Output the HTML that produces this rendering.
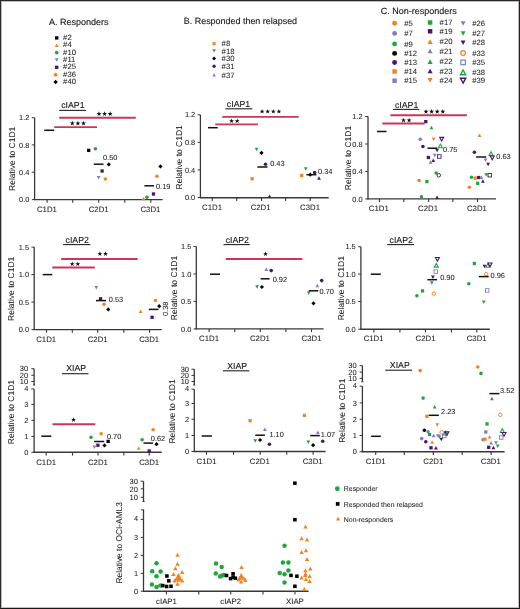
<!DOCTYPE html>
<html><head><meta charset="utf-8"><title>Figure</title>
<style>
html,body{margin:0;padding:0;background:#fff;}
body{width:520px;height:609px;overflow:hidden;position:relative;}
.frame{position:absolute;left:0;top:0;width:520px;height:609px;box-sizing:border-box;border:1px solid #2b2728;border-bottom-color:#1a1617;border-right-color:#221e1f;box-shadow:inset 0 0 0 1px rgba(43,39,40,0.3);}
svg{position:absolute;left:0;top:0;will-change:transform;}
text{font-family:"Liberation Sans", sans-serif;text-rendering:geometricPrecision;}
</style></head><body>
<svg width="520" height="609" viewBox="0 0 520 609" font-family="Liberation Sans, sans-serif">
<rect x="0" y="0" width="520" height="609" fill="#fff"/>
<text x="0" y="3.22" font-size="9" fill="#1a1a1a" stroke="#1a1a1a" stroke-width="0.14" text-anchor="start" transform="translate(49,21.8) scale(1,1)" >A. Responders</text>
<text x="0" y="3.2" font-size="8.95" fill="#1a1a1a" stroke="#1a1a1a" stroke-width="0.14" text-anchor="start" transform="translate(183.8,20.5) scale(1,1)" >B. Responded then relapsed</text>
<text x="0" y="3.22" font-size="9" fill="#1a1a1a" stroke="#1a1a1a" stroke-width="0.14" text-anchor="start" transform="translate(380.8,10.9) scale(1,1)" >C. Non-responders</text>
<rect x="55.02" y="36.22" width="3.37" height="3.37" fill="#000000"/>
<text x="0" y="2.76" font-size="7.7" fill="#1e1e1e" stroke="#1e1e1e" stroke-width="0.06" text-anchor="start" transform="translate(63.1,37.3) scale(1,1)" >#2</text>
<polygon points="56.7 43.47 58.64 47.03 54.76 47.03" fill="#f5821f"/>
<text x="0" y="2.76" font-size="7.7" fill="#1e1e1e" stroke="#1e1e1e" stroke-width="0.06" text-anchor="start" transform="translate(63.1,44.65) scale(1,1)" >#4</text>
<circle cx="56.7" cy="52.6" r="1.84" fill="#22a53f"/>
<text x="0" y="2.76" font-size="7.7" fill="#1e1e1e" stroke="#1e1e1e" stroke-width="0.06" text-anchor="start" transform="translate(63.1,52) scale(1,1)" >#10</text>
<polygon points="56.7 61.73 58.64 58.16 54.76 58.16" fill="#817bc8"/>
<text x="0" y="2.76" font-size="7.7" fill="#1e1e1e" stroke="#1e1e1e" stroke-width="0.06" text-anchor="start" transform="translate(63.1,59.35) scale(1,1)" >#11</text>
<rect x="55.02" y="65.62" width="3.37" height="3.37" fill="#4a1570"/>
<text x="0" y="2.76" font-size="7.7" fill="#1e1e1e" stroke="#1e1e1e" stroke-width="0.06" text-anchor="start" transform="translate(63.1,66.7) scale(1,1)" >#25</text>
<circle cx="55.6" cy="74.65" r="1.84" fill="#f5821f"/>
<text x="0" y="2.76" font-size="7.7" fill="#1e1e1e" stroke="#1e1e1e" stroke-width="0.06" text-anchor="start" transform="translate(63.1,74.05) scale(1,1)" >#36</text>
<polygon points="55.6,79.86 57.74,82 55.6,84.14 53.46,82" fill="#000000"/>
<text x="0" y="2.76" font-size="7.7" fill="#1e1e1e" stroke="#1e1e1e" stroke-width="0.06" text-anchor="start" transform="translate(63.1,81.4) scale(1,1)" >#40</text>
<rect x="212.53" y="42.13" width="3.13" height="3.13" fill="#f5821f"/>
<text x="0" y="2.76" font-size="7.7" fill="#1e1e1e" stroke="#1e1e1e" stroke-width="0.06" text-anchor="start" transform="translate(221.6,43.7) scale(1,1)" >#8</text>
<polygon points="214.1 52.56 215.91 49.24 212.29 49.24" fill="#22a53f"/>
<text x="0" y="2.76" font-size="7.7" fill="#1e1e1e" stroke="#1e1e1e" stroke-width="0.06" text-anchor="start" transform="translate(221.6,50.9) scale(1,1)" >#18</text>
<polygon points="214.1,56.61 216.09,58.6 214.1,60.59 212.1,58.6" fill="#000000"/>
<text x="0" y="2.76" font-size="7.7" fill="#1e1e1e" stroke="#1e1e1e" stroke-width="0.06" text-anchor="start" transform="translate(221.6,58.6) scale(1,1)" >#30</text>
<circle cx="214.1" cy="66.3" r="1.71" fill="#4a1570"/>
<text x="0" y="2.76" font-size="7.7" fill="#1e1e1e" stroke="#1e1e1e" stroke-width="0.06" text-anchor="start" transform="translate(221.6,66.3) scale(1,1)" >#31</text>
<polygon points="214.1 73.24 215.91 76.56 212.29 76.56" fill="#817bc8"/>
<text x="0" y="2.76" font-size="7.7" fill="#1e1e1e" stroke="#1e1e1e" stroke-width="0.06" text-anchor="start" transform="translate(221.6,74.9) scale(1,1)" >#37</text>
<circle cx="394.6" cy="23.3" r="2.43" fill="#f5821f"/>
<text x="0" y="2.76" font-size="7.7" fill="#1e1e1e" stroke="#1e1e1e" stroke-width="0.06" text-anchor="start" transform="translate(404.2,23.3) scale(1,1)" >#5</text>
<circle cx="394.6" cy="33.4" r="2.43" fill="#817bc8"/>
<text x="0" y="2.76" font-size="7.7" fill="#1e1e1e" stroke="#1e1e1e" stroke-width="0.06" text-anchor="start" transform="translate(404.2,33.4) scale(1,1)" >#7</text>
<circle cx="394.6" cy="43.9" r="2.43" fill="#22a53f"/>
<text x="0" y="2.76" font-size="7.7" fill="#1e1e1e" stroke="#1e1e1e" stroke-width="0.06" text-anchor="start" transform="translate(404.2,43.9) scale(1,1)" >#9</text>
<circle cx="394.6" cy="53.4" r="2.43" fill="#000000"/>
<text x="0" y="2.76" font-size="7.7" fill="#1e1e1e" stroke="#1e1e1e" stroke-width="0.06" text-anchor="start" transform="translate(404.2,53.4) scale(1,1)" >#12</text>
<circle cx="394.6" cy="62.5" r="2.43" fill="#4a1570"/>
<text x="0" y="2.76" font-size="7.7" fill="#1e1e1e" stroke="#1e1e1e" stroke-width="0.06" text-anchor="start" transform="translate(404.2,62.5) scale(1,1)" >#13</text>
<rect x="392.37" y="69.27" width="4.46" height="4.46" fill="#f5821f"/>
<text x="0" y="2.76" font-size="7.7" fill="#1e1e1e" stroke="#1e1e1e" stroke-width="0.06" text-anchor="start" transform="translate(404.2,71.5) scale(1,1)" >#14</text>
<rect x="392.37" y="78.47" width="4.46" height="4.46" fill="#817bc8"/>
<text x="0" y="2.76" font-size="7.7" fill="#1e1e1e" stroke="#1e1e1e" stroke-width="0.06" text-anchor="start" transform="translate(404.2,80.7) scale(1,1)" >#15</text>
<rect x="427.87" y="20.27" width="4.46" height="4.46" fill="#22a53f"/>
<text x="0" y="2.76" font-size="7.7" fill="#1e1e1e" stroke="#1e1e1e" stroke-width="0.06" text-anchor="start" transform="translate(439.6,22.5) scale(1,1)" >#17</text>
<rect x="427.87" y="29.07" width="4.46" height="4.46" fill="#4a1570"/>
<text x="0" y="2.76" font-size="7.7" fill="#1e1e1e" stroke="#1e1e1e" stroke-width="0.06" text-anchor="start" transform="translate(439.6,31.3) scale(1,1)" >#19</text>
<polygon points="430.1 39.24 432.67 43.96 427.54 43.96" fill="#f5821f"/>
<text x="0" y="2.76" font-size="7.7" fill="#1e1e1e" stroke="#1e1e1e" stroke-width="0.06" text-anchor="start" transform="translate(439.6,41.6) scale(1,1)" >#20</text>
<polygon points="430.1 48.64 432.67 53.36 427.54 53.36" fill="#817bc8"/>
<text x="0" y="2.76" font-size="7.7" fill="#1e1e1e" stroke="#1e1e1e" stroke-width="0.06" text-anchor="start" transform="translate(439.6,51) scale(1,1)" >#21</text>
<polygon points="430.1 59.24 432.67 63.96 427.54 63.96" fill="#22a53f"/>
<text x="0" y="2.76" font-size="7.7" fill="#1e1e1e" stroke="#1e1e1e" stroke-width="0.06" text-anchor="start" transform="translate(439.6,61.6) scale(1,1)" >#22</text>
<polygon points="430.1 68.64 432.67 73.36 427.54 73.36" fill="#4a1570"/>
<text x="0" y="2.76" font-size="7.7" fill="#1e1e1e" stroke="#1e1e1e" stroke-width="0.06" text-anchor="start" transform="translate(439.6,71) scale(1,1)" >#23</text>
<polygon points="430.1 82.66 432.67 77.94 427.54 77.94" fill="#f5821f"/>
<text x="0" y="2.76" font-size="7.7" fill="#1e1e1e" stroke="#1e1e1e" stroke-width="0.06" text-anchor="start" transform="translate(439.6,80.3) scale(1,1)" >#24</text>
<polygon points="463.1 25.77 465.57 21.23 460.63 21.23" fill="#817bc8"/>
<text x="0" y="2.76" font-size="7.7" fill="#1e1e1e" stroke="#1e1e1e" stroke-width="0.06" text-anchor="start" transform="translate(472.3,23.5) scale(1,1)" >#26</text>
<polygon points="463.1 35.77 465.57 31.23 460.63 31.23" fill="#22a53f"/>
<text x="0" y="2.76" font-size="7.7" fill="#1e1e1e" stroke="#1e1e1e" stroke-width="0.06" text-anchor="start" transform="translate(472.3,33.5) scale(1,1)" >#27</text>
<polygon points="463.1 44.98 465.57 40.43 460.63 40.43" fill="#4a1570"/>
<text x="0" y="2.76" font-size="7.7" fill="#1e1e1e" stroke="#1e1e1e" stroke-width="0.06" text-anchor="start" transform="translate(472.3,42.7) scale(1,1)" >#28</text>
<circle cx="463.1" cy="53" r="2.27" fill="none" stroke="#f5821f" stroke-width="1.23"/>
<text x="0" y="2.76" font-size="7.7" fill="#1e1e1e" stroke="#1e1e1e" stroke-width="0.06" text-anchor="start" transform="translate(472.3,53) scale(1,1)" >#33</text>
<rect x="460.83" y="60.12" width="4.55" height="4.55" fill="none" stroke="#817bc8" stroke-width="1.17"/>
<text x="0" y="2.76" font-size="7.7" fill="#1e1e1e" stroke="#1e1e1e" stroke-width="0.06" text-anchor="start" transform="translate(472.3,62.4) scale(1,1)" >#35</text>
<polygon points="463.1 70 465.7 74.81 460.5 74.81" fill="none" stroke="#22a53f" stroke-width="1.43" stroke-linejoin="miter"/>
<text x="0" y="2.76" font-size="7.7" fill="#1e1e1e" stroke="#1e1e1e" stroke-width="0.06" text-anchor="start" transform="translate(472.3,72.4) scale(1,1)" >#38</text>
<polygon points="463.1 83.11 465.7 78.3 460.5 78.3" fill="none" stroke="#4a1570" stroke-width="1.43" stroke-linejoin="miter"/>
<text x="0" y="2.76" font-size="7.7" fill="#1e1e1e" stroke="#1e1e1e" stroke-width="0.06" text-anchor="start" transform="translate(472.3,80.7) scale(1,1)" >#39</text>
<line x1="34.6" y1="117.7" x2="34.6" y2="200.1" stroke="#383838" stroke-width="1.3"/>
<line x1="31.8" y1="117.7" x2="34.6" y2="117.7" stroke="#383838" stroke-width="1"/>
<text x="0" y="2.65" font-size="7.4" fill="#1e1e1e" stroke="#1e1e1e" stroke-width="0.06" text-anchor="end" transform="translate(29.4,117.7) scale(1,1)" >1.2</text>
<line x1="31.8" y1="144.9" x2="34.6" y2="144.9" stroke="#383838" stroke-width="1"/>
<text x="0" y="2.65" font-size="7.4" fill="#1e1e1e" stroke="#1e1e1e" stroke-width="0.06" text-anchor="end" transform="translate(29.4,144.9) scale(1,1)" >0.8</text>
<line x1="31.8" y1="172.2" x2="34.6" y2="172.2" stroke="#383838" stroke-width="1"/>
<text x="0" y="2.65" font-size="7.4" fill="#1e1e1e" stroke="#1e1e1e" stroke-width="0.06" text-anchor="end" transform="translate(29.4,172.2) scale(1,1)" >0.4</text>
<line x1="31.8" y1="199.6" x2="34.6" y2="199.6" stroke="#383838" stroke-width="1"/>
<text x="0" y="2.65" font-size="7.4" fill="#1e1e1e" stroke="#1e1e1e" stroke-width="0.06" text-anchor="end" transform="translate(29.4,199.6) scale(1,1)" >0.0</text>
<text x="0" y="3.04" font-size="8.5" fill="#1e1e1e" stroke="#1e1e1e" stroke-width="0.06" text-anchor="middle" transform="translate(12.3,158.8) rotate(-90) scale(1,1)" >Relative to C1D1</text>
<line x1="34" y1="199.6" x2="162.7" y2="199.6" stroke="#383838" stroke-width="1.4"/>
<line x1="47.1" y1="199.6" x2="47.1" y2="202.8" stroke="#383838" stroke-width="1.1"/>
<line x1="72.7" y1="199.6" x2="72.7" y2="202.8" stroke="#383838" stroke-width="1.1"/>
<line x1="98.7" y1="199.6" x2="98.7" y2="202.8" stroke="#383838" stroke-width="1.1"/>
<line x1="124.8" y1="199.6" x2="124.8" y2="202.8" stroke="#383838" stroke-width="1.1"/>
<line x1="150.8" y1="199.6" x2="150.8" y2="202.8" stroke="#383838" stroke-width="1.1"/>
<text x="0" y="2.79" font-size="7.8" fill="#1e1e1e" stroke="#1e1e1e" stroke-width="0.06" text-anchor="middle" transform="translate(46.9,208.9) scale(1,1)" >C1D1</text>
<text x="0" y="2.79" font-size="7.8" fill="#1e1e1e" stroke="#1e1e1e" stroke-width="0.06" text-anchor="middle" transform="translate(98.7,208.9) scale(1,1)" >C2D1</text>
<text x="0" y="2.79" font-size="7.8" fill="#1e1e1e" stroke="#1e1e1e" stroke-width="0.06" text-anchor="middle" transform="translate(150.4,208.9) scale(1,1)" >C3D1</text>
<text x="0" y="3.13" font-size="8.75" fill="#1a1a1a" stroke="#1a1a1a" stroke-width="0.12" text-anchor="middle" transform="translate(72.9,105.15) scale(1,1)" >cIAP1</text>
<line x1="59.2" y1="110.4" x2="86" y2="110.4" stroke="#222" stroke-width="1.1"/>
<line x1="59.2" y1="117.7" x2="135.8" y2="117.7" stroke="#cc3654" stroke-width="1.9"/>
<polygon points="99,111.3 99.62,113.05 101.47,113.1 100,114.22 100.53,116 99,114.95 97.47,116 98,114.22 96.53,113.1 98.38,113.05" fill="#111"/>
<polygon points="104.6,111.3 105.22,113.05 107.07,113.1 105.6,114.22 106.13,116 104.6,114.95 103.07,116 103.6,114.22 102.13,113.1 103.98,113.05" fill="#111"/>
<polygon points="110.2,111.3 110.82,113.05 112.67,113.1 111.2,114.22 111.73,116 110.2,114.95 108.67,116 109.2,114.22 107.73,113.1 109.58,113.05" fill="#111"/>
<line x1="54.2" y1="127.1" x2="97" y2="127.1" stroke="#cc3654" stroke-width="1.9"/>
<polygon points="72.3,120.8 72.92,122.55 74.77,122.6 73.3,123.72 73.83,125.5 72.3,124.45 70.77,125.5 71.3,123.72 69.83,122.6 71.68,122.55" fill="#111"/>
<polygon points="77.9,120.8 78.52,122.55 80.37,122.6 78.9,123.72 79.43,125.5 77.9,124.45 76.37,125.5 76.9,123.72 75.43,122.6 77.28,122.55" fill="#111"/>
<polygon points="83.5,120.8 84.12,122.55 85.97,122.6 84.5,123.72 85.03,125.5 83.5,124.45 81.97,125.5 82.5,123.72 81.03,122.6 82.88,122.55" fill="#111"/>
<line x1="44.2" y1="130.3" x2="54.2" y2="130.3" stroke="#111" stroke-width="1.5"/>
<rect x="87.05" y="148.75" width="3.3" height="3.3" fill="#000000"/>
<circle cx="95.4" cy="148.8" r="1.8" fill="#22a53f"/>
<polygon points="108.8,162.3 110.9,164.4 108.8,166.5 106.7,164.4" fill="#000000"/>
<rect x="100.45" y="169.35" width="3.3" height="3.3" fill="#4a1570"/>
<polygon points="98.7 179.45 100.6 175.95 96.8 175.95" fill="#817bc8"/>
<circle cx="105.4" cy="179" r="1.8" fill="#f5821f"/>
<line x1="93.8" y1="164.2" x2="103.5" y2="164.2" stroke="#111" stroke-width="1.5"/>
<text x="0" y="2.65" font-size="7.4" fill="#1e1e1e" stroke="#1e1e1e" stroke-width="0.06" text-anchor="start" transform="translate(103,157.5) scale(1,1)" >0.50</text>
<polygon points="160.4,164.3 162.5,166.4 160.4,168.5 158.3,166.4" fill="#000000"/>
<circle cx="156.9" cy="176.2" r="1.8" fill="#f5821f"/>
<rect x="151.85" y="192.35" width="3.3" height="3.3" fill="#4a1570"/>
<circle cx="146.9" cy="197.3" r="1.8" fill="#22a53f"/>
<polygon points="143.5 196.85 145.4 200.35 141.6 200.35" fill="#f5821f"/>
<line x1="144.4" y1="185.8" x2="154" y2="185.8" stroke="#111" stroke-width="1.5"/>
<text x="0" y="2.65" font-size="7.4" fill="#1e1e1e" stroke="#1e1e1e" stroke-width="0.06" text-anchor="start" transform="translate(156,186.2) scale(1,1)" >0.19</text>
<line x1="200.4" y1="114.8" x2="200.4" y2="198" stroke="#383838" stroke-width="1.3"/>
<line x1="197.6" y1="114.8" x2="200.4" y2="114.8" stroke="#383838" stroke-width="1"/>
<text x="0" y="2.65" font-size="7.4" fill="#1e1e1e" stroke="#1e1e1e" stroke-width="0.06" text-anchor="end" transform="translate(195.2,114.8) scale(1,1)" >1.2</text>
<line x1="197.6" y1="142.4" x2="200.4" y2="142.4" stroke="#383838" stroke-width="1"/>
<text x="0" y="2.65" font-size="7.4" fill="#1e1e1e" stroke="#1e1e1e" stroke-width="0.06" text-anchor="end" transform="translate(195.2,142.4) scale(1,1)" >0.8</text>
<line x1="197.6" y1="169.9" x2="200.4" y2="169.9" stroke="#383838" stroke-width="1"/>
<text x="0" y="2.65" font-size="7.4" fill="#1e1e1e" stroke="#1e1e1e" stroke-width="0.06" text-anchor="end" transform="translate(195.2,169.9) scale(1,1)" >0.4</text>
<line x1="197.6" y1="197.5" x2="200.4" y2="197.5" stroke="#383838" stroke-width="1"/>
<text x="0" y="2.65" font-size="7.4" fill="#1e1e1e" stroke="#1e1e1e" stroke-width="0.06" text-anchor="end" transform="translate(195.2,197.5) scale(1,1)" >0.0</text>
<text x="0" y="3.04" font-size="8.5" fill="#1e1e1e" stroke="#1e1e1e" stroke-width="0.06" text-anchor="middle" transform="translate(178.7,157.3) rotate(-90) scale(1,1)" >Relative to C1D1</text>
<line x1="199.8" y1="197.8" x2="328.7" y2="197.8" stroke="#383838" stroke-width="1.4"/>
<line x1="212.3" y1="197.8" x2="212.3" y2="201" stroke="#383838" stroke-width="1.1"/>
<line x1="236.7" y1="197.8" x2="236.7" y2="201" stroke="#383838" stroke-width="1.1"/>
<line x1="261.5" y1="197.8" x2="261.5" y2="201" stroke="#383838" stroke-width="1.1"/>
<line x1="285.6" y1="197.8" x2="285.6" y2="201" stroke="#383838" stroke-width="1.1"/>
<line x1="310.2" y1="197.8" x2="310.2" y2="201" stroke="#383838" stroke-width="1.1"/>
<text x="0" y="2.79" font-size="7.8" fill="#1e1e1e" stroke="#1e1e1e" stroke-width="0.06" text-anchor="middle" transform="translate(212,207) scale(1,1)" >C1D1</text>
<text x="0" y="2.79" font-size="7.8" fill="#1e1e1e" stroke="#1e1e1e" stroke-width="0.06" text-anchor="middle" transform="translate(260.6,207) scale(1,1)" >C2D1</text>
<text x="0" y="2.79" font-size="7.8" fill="#1e1e1e" stroke="#1e1e1e" stroke-width="0.06" text-anchor="middle" transform="translate(310,207) scale(1,1)" >C3D1</text>
<text x="0" y="3.13" font-size="8.75" fill="#1a1a1a" stroke="#1a1a1a" stroke-width="0.12" text-anchor="middle" transform="translate(238.5,103.85) scale(1,1)" >cIAP1</text>
<line x1="225.4" y1="108.8" x2="252.3" y2="108.8" stroke="#222" stroke-width="1.1"/>
<line x1="222.3" y1="116.9" x2="298.7" y2="116.9" stroke="#cc3654" stroke-width="1.9"/>
<polygon points="262.1,108.9 262.72,110.65 264.57,110.7 263.1,111.82 263.63,113.6 262.1,112.55 260.57,113.6 261.1,111.82 259.63,110.7 261.48,110.65" fill="#111"/>
<polygon points="267.7,108.9 268.32,110.65 270.17,110.7 268.7,111.82 269.23,113.6 267.7,112.55 266.17,113.6 266.7,111.82 265.23,110.7 267.08,110.65" fill="#111"/>
<polygon points="273.3,108.9 273.92,110.65 275.77,110.7 274.3,111.82 274.83,113.6 273.3,112.55 271.77,113.6 272.3,111.82 270.83,110.7 272.68,110.65" fill="#111"/>
<polygon points="278.9,108.9 279.52,110.65 281.37,110.7 279.9,111.82 280.43,113.6 278.9,112.55 277.37,113.6 277.9,111.82 276.43,110.7 278.28,110.65" fill="#111"/>
<line x1="215.2" y1="124.4" x2="257.9" y2="124.4" stroke="#cc3654" stroke-width="1.9"/>
<polygon points="231.6,118.4 232.22,120.15 234.07,120.2 232.6,121.32 233.13,123.1 231.6,122.05 230.07,123.1 230.6,121.32 229.13,120.2 230.98,120.15" fill="#111"/>
<polygon points="237.2,118.4 237.82,120.15 239.67,120.2 238.2,121.32 238.73,123.1 237.2,122.05 235.67,123.1 236.2,121.32 234.73,120.2 236.58,120.15" fill="#111"/>
<line x1="208" y1="127.7" x2="217.7" y2="127.7" stroke="#111" stroke-width="1.5"/>
<polygon points="256.6 151.15 258.5 147.65 254.7 147.65" fill="#22a53f"/>
<polygon points="261.5,150.8 263.6,152.9 261.5,155 259.4,152.9" fill="#000000"/>
<circle cx="265.5" cy="164.2" r="1.8" fill="#4a1570"/>
<rect x="250.45" y="177.15" width="3.3" height="3.3" fill="#f5821f"/>
<polygon points="269.6 194.55 271.5 198.05 267.7 198.05" fill="#4a1570"/>
<line x1="257.4" y1="167" x2="267.5" y2="167" stroke="#111" stroke-width="1.5"/>
<text x="0" y="2.65" font-size="7.4" fill="#1e1e1e" stroke="#1e1e1e" stroke-width="0.06" text-anchor="start" transform="translate(270.2,163.7) scale(1,1)" >0.43</text>
<polygon points="305.8 170.75 307.7 167.25 303.9 167.25" fill="#22a53f"/>
<rect x="300.05" y="173.85" width="3.3" height="3.3" fill="#f5821f"/>
<circle cx="314.7" cy="172.5" r="1.8" fill="#4a1570"/>
<polygon points="319 176.35 320.9 179.85 317.1 179.85" fill="#4a1570"/>
<line x1="306.4" y1="174.7" x2="316.4" y2="174.7" stroke="#111" stroke-width="1.5"/>
<polygon points="310.2,172.6 312.3,174.7 310.2,176.8 308.1,174.7" fill="#000000"/>
<text x="0" y="2.65" font-size="7.4" fill="#1e1e1e" stroke="#1e1e1e" stroke-width="0.06" text-anchor="start" transform="translate(318,171.5) scale(1,1)" >0.34</text>
<line x1="368" y1="116.5" x2="368" y2="199.4" stroke="#383838" stroke-width="1.3"/>
<line x1="365.2" y1="116.5" x2="368" y2="116.5" stroke="#383838" stroke-width="1"/>
<text x="0" y="2.65" font-size="7.4" fill="#1e1e1e" stroke="#1e1e1e" stroke-width="0.06" text-anchor="end" transform="translate(362.6,116.5) scale(1,1)" >1.2</text>
<line x1="365.2" y1="144" x2="368" y2="144" stroke="#383838" stroke-width="1"/>
<text x="0" y="2.65" font-size="7.4" fill="#1e1e1e" stroke="#1e1e1e" stroke-width="0.06" text-anchor="end" transform="translate(362.6,144) scale(1,1)" >0.8</text>
<line x1="365.2" y1="171.5" x2="368" y2="171.5" stroke="#383838" stroke-width="1"/>
<text x="0" y="2.65" font-size="7.4" fill="#1e1e1e" stroke="#1e1e1e" stroke-width="0.06" text-anchor="end" transform="translate(362.6,171.5) scale(1,1)" >0.4</text>
<line x1="365.2" y1="198.9" x2="368" y2="198.9" stroke="#383838" stroke-width="1"/>
<text x="0" y="2.65" font-size="7.4" fill="#1e1e1e" stroke="#1e1e1e" stroke-width="0.06" text-anchor="end" transform="translate(362.6,198.9) scale(1,1)" >0.0</text>
<text x="0" y="3.04" font-size="8.5" fill="#1e1e1e" stroke="#1e1e1e" stroke-width="0.06" text-anchor="middle" transform="translate(347.5,158) rotate(-90) scale(1,1)" >Relative to C1D1</text>
<line x1="367.4" y1="198.9" x2="496" y2="198.9" stroke="#383838" stroke-width="1.4"/>
<line x1="379.5" y1="198.9" x2="379.5" y2="202.1" stroke="#383838" stroke-width="1.1"/>
<line x1="403.8" y1="198.9" x2="403.8" y2="202.1" stroke="#383838" stroke-width="1.1"/>
<line x1="428.7" y1="198.9" x2="428.7" y2="202.1" stroke="#383838" stroke-width="1.1"/>
<line x1="452.9" y1="198.9" x2="452.9" y2="202.1" stroke="#383838" stroke-width="1.1"/>
<line x1="477.5" y1="198.9" x2="477.5" y2="202.1" stroke="#383838" stroke-width="1.1"/>
<text x="0" y="2.79" font-size="7.8" fill="#1e1e1e" stroke="#1e1e1e" stroke-width="0.06" text-anchor="middle" transform="translate(378.8,208) scale(1,1)" >C1D1</text>
<text x="0" y="2.79" font-size="7.8" fill="#1e1e1e" stroke="#1e1e1e" stroke-width="0.06" text-anchor="middle" transform="translate(428,208) scale(1,1)" >C2D1</text>
<text x="0" y="2.79" font-size="7.8" fill="#1e1e1e" stroke="#1e1e1e" stroke-width="0.06" text-anchor="middle" transform="translate(476.9,208) scale(1,1)" >C3D1</text>
<text x="0" y="3.13" font-size="8.75" fill="#1a1a1a" stroke="#1a1a1a" stroke-width="0.12" text-anchor="middle" transform="translate(406.6,104.45) scale(1,1)" >cIAP1</text>
<line x1="392.9" y1="109.4" x2="419.2" y2="109.4" stroke="#222" stroke-width="1.1"/>
<line x1="390.4" y1="115.2" x2="466.9" y2="115.2" stroke="#cc3654" stroke-width="1.9"/>
<polygon points="426,109 426.62,110.75 428.47,110.8 427,111.92 427.53,113.7 426,112.65 424.47,113.7 425,111.92 423.53,110.8 425.38,110.75" fill="#111"/>
<polygon points="431.6,109 432.22,110.75 434.07,110.8 432.6,111.92 433.13,113.7 431.6,112.65 430.07,113.7 430.6,111.92 429.13,110.8 430.98,110.75" fill="#111"/>
<polygon points="437.2,109 437.82,110.75 439.67,110.8 438.2,111.92 438.73,113.7 437.2,112.65 435.67,113.7 436.2,111.92 434.73,110.8 436.58,110.75" fill="#111"/>
<polygon points="442.8,109 443.42,110.75 445.27,110.8 443.8,111.92 444.33,113.7 442.8,112.65 441.27,113.7 441.8,111.92 440.33,110.8 442.18,110.75" fill="#111"/>
<line x1="382.3" y1="123.5" x2="424.6" y2="123.5" stroke="#cc3654" stroke-width="1.9"/>
<polygon points="403.5,117.7 404.12,119.45 405.97,119.5 404.5,120.62 405.03,122.4 403.5,121.35 401.97,122.4 402.5,120.62 401.03,119.5 402.88,119.45" fill="#111"/>
<polygon points="409.1,117.7 409.72,119.45 411.57,119.5 410.1,120.62 410.63,122.4 409.1,121.35 407.57,122.4 408.1,120.62 406.63,119.5 408.48,119.45" fill="#111"/>
<line x1="376.9" y1="131.5" x2="386.5" y2="131.5" stroke="#111" stroke-width="1.5"/>
<rect x="424.15" y="119.95" width="3.3" height="3.3" fill="#4a1570"/>
<polygon points="431.5 125.75 433.4 129.25 429.6 129.25" fill="#22a53f"/>
<circle cx="420.3" cy="139.2" r="1.8" fill="#817bc8"/>
<polygon points="433.6 140.95 435.5 137.45 431.7 137.45" fill="#f5821f"/>
<polygon points="441.7 141.05 443.7 137.35 439.7 137.35" fill="none" stroke="#4a1570" stroke-width="1.1" stroke-linejoin="miter"/>
<circle cx="422.9" cy="146.5" r="1.8" fill="#4a1570"/>
<polygon points="440.4 144.05 442.4 147.75 438.4 147.75" fill="none" stroke="#22a53f" stroke-width="1.1" stroke-linejoin="miter"/>
<polygon points="437.1 152.25 439 148.75 435.2 148.75" fill="#4a1570"/>
<rect x="426.75" y="155.85" width="3.3" height="3.3" fill="#4a1570"/>
<polygon points="434.8 157.35 436.7 153.85 432.9 153.85" fill="#817bc8"/>
<rect x="437.55" y="154.75" width="3.5" height="3.5" fill="none" stroke="#4a1570" stroke-width="0.9"/>
<polygon points="433.3 158.45 435.2 161.95 431.4 161.95" fill="#4a1570"/>
<polygon points="430.6 160.35 432.5 163.85 428.7 163.85" fill="#817bc8"/>
<circle cx="436.2" cy="173" r="1.8" fill="#22a53f"/>
<circle cx="438.8" cy="175.3" r="1.75" fill="none" stroke="#4a1570" stroke-width="0.95"/>
<circle cx="419.1" cy="180.5" r="1.8" fill="#f5821f"/>
<rect x="425.25" y="179.95" width="3.3" height="3.3" fill="#22a53f"/>
<circle cx="421.5" cy="196.7" r="1.8" fill="#22a53f"/>
<polygon points="437.1 195.55 439 199.05 435.2 199.05" fill="#4a1570"/>
<line x1="427.5" y1="148.2" x2="437.3" y2="148.2" stroke="#111" stroke-width="1.5"/>
<text x="0" y="2.65" font-size="7.4" fill="#1e1e1e" stroke="#1e1e1e" stroke-width="0.06" text-anchor="start" transform="translate(443.1,149.4) scale(1,1)" >0.75</text>
<polygon points="479.5 133.45 481.4 136.95 477.6 136.95" fill="#f5821f"/>
<circle cx="474.4" cy="152.3" r="1.8" fill="#4a1570"/>
<polygon points="491 151.65 493 155.35 489 155.35" fill="none" stroke="#22a53f" stroke-width="1.1" stroke-linejoin="miter"/>
<polygon points="492.2 159.75 494.2 156.05 490.2 156.05" fill="none" stroke="#4a1570" stroke-width="1.1" stroke-linejoin="miter"/>
<polygon points="485.6 161.95 487.5 158.45 483.7 158.45" fill="#817bc8"/>
<polygon points="488.1 166.25 490 162.75 486.2 162.75" fill="#4a1570"/>
<polygon points="486.2 176.75 488.1 173.25 484.3 173.25" fill="#22a53f"/>
<rect x="488.05" y="173.45" width="3.5" height="3.5" fill="none" stroke="#4a1570" stroke-width="0.9"/>
<circle cx="471.5" cy="177.2" r="1.8" fill="#22a53f"/>
<rect x="473.55" y="176.45" width="3.3" height="3.3" fill="#f5821f"/>
<rect x="477.05" y="175.85" width="3.3" height="3.3" fill="#4a1570"/>
<polygon points="481.3 175.45 483.2 178.95 479.4 178.95" fill="#817bc8"/>
<polygon points="482.9 179.25 484.8 182.75 481 182.75" fill="#4a1570"/>
<rect x="476.05" y="181.65" width="3.3" height="3.3" fill="#22a53f"/>
<circle cx="469.4" cy="187.3" r="1.8" fill="#f5821f"/>
<line x1="476.1" y1="157" x2="486.2" y2="157" stroke="#111" stroke-width="1.5"/>
<text x="0" y="2.65" font-size="7.4" fill="#1e1e1e" stroke="#1e1e1e" stroke-width="0.06" text-anchor="start" transform="translate(496.3,156.7) scale(1,1)" >0.63</text>
<line x1="34.2" y1="247.1" x2="34.2" y2="330.1" stroke="#383838" stroke-width="1.3"/>
<line x1="31.4" y1="247.1" x2="34.2" y2="247.1" stroke="#383838" stroke-width="1"/>
<text x="0" y="2.65" font-size="7.4" fill="#1e1e1e" stroke="#1e1e1e" stroke-width="0.06" text-anchor="end" transform="translate(29,247.1) scale(1,1)" >1.5</text>
<line x1="31.4" y1="274.6" x2="34.2" y2="274.6" stroke="#383838" stroke-width="1"/>
<text x="0" y="2.65" font-size="7.4" fill="#1e1e1e" stroke="#1e1e1e" stroke-width="0.06" text-anchor="end" transform="translate(29,274.6) scale(1,1)" >1.0</text>
<line x1="31.4" y1="302.1" x2="34.2" y2="302.1" stroke="#383838" stroke-width="1"/>
<text x="0" y="2.65" font-size="7.4" fill="#1e1e1e" stroke="#1e1e1e" stroke-width="0.06" text-anchor="end" transform="translate(29,302.1) scale(1,1)" >0.5</text>
<line x1="31.4" y1="329.6" x2="34.2" y2="329.6" stroke="#383838" stroke-width="1"/>
<text x="0" y="2.65" font-size="7.4" fill="#1e1e1e" stroke="#1e1e1e" stroke-width="0.06" text-anchor="end" transform="translate(29,329.6) scale(1,1)" >0.0</text>
<text x="0" y="3.04" font-size="8.5" fill="#1e1e1e" stroke="#1e1e1e" stroke-width="0.06" text-anchor="middle" transform="translate(11.4,288.8) rotate(-90) scale(1,1)" >Relative to C1D1</text>
<line x1="33.6" y1="329.6" x2="161.7" y2="329.6" stroke="#383838" stroke-width="1.4"/>
<line x1="46.5" y1="329.6" x2="46.5" y2="332.8" stroke="#383838" stroke-width="1.1"/>
<line x1="72.3" y1="329.6" x2="72.3" y2="332.8" stroke="#383838" stroke-width="1.1"/>
<line x1="97.7" y1="329.6" x2="97.7" y2="332.8" stroke="#383838" stroke-width="1.1"/>
<line x1="123.8" y1="329.6" x2="123.8" y2="332.8" stroke="#383838" stroke-width="1.1"/>
<line x1="149.6" y1="329.6" x2="149.6" y2="332.8" stroke="#383838" stroke-width="1.1"/>
<text x="0" y="2.79" font-size="7.8" fill="#1e1e1e" stroke="#1e1e1e" stroke-width="0.06" text-anchor="middle" transform="translate(46.2,338.8) scale(1,1)" >C1D1</text>
<text x="0" y="2.79" font-size="7.8" fill="#1e1e1e" stroke="#1e1e1e" stroke-width="0.06" text-anchor="middle" transform="translate(97.7,338.8) scale(1,1)" >C2D1</text>
<text x="0" y="2.79" font-size="7.8" fill="#1e1e1e" stroke="#1e1e1e" stroke-width="0.06" text-anchor="middle" transform="translate(149.2,338.8) scale(1,1)" >C3D1</text>
<text x="0" y="3.13" font-size="8.75" fill="#1a1a1a" stroke="#1a1a1a" stroke-width="0.12" text-anchor="middle" transform="translate(77.2,239.65) scale(1,1)" >cIAP2</text>
<line x1="63.1" y1="244.6" x2="90.4" y2="244.6" stroke="#222" stroke-width="1.1"/>
<line x1="61.2" y1="259" x2="137.7" y2="259" stroke="#cc3654" stroke-width="1.9"/>
<polygon points="99.9,251.2 100.52,252.95 102.37,253 100.9,254.12 101.43,255.9 99.9,254.85 98.37,255.9 98.9,254.12 97.43,253 99.28,252.95" fill="#111"/>
<polygon points="105.5,251.2 106.12,252.95 107.97,253 106.5,254.12 107.03,255.9 105.5,254.85 103.97,255.9 104.5,254.12 103.03,253 104.88,252.95" fill="#111"/>
<line x1="52.3" y1="267.5" x2="94.8" y2="267.5" stroke="#cc3654" stroke-width="1.9"/>
<polygon points="72.2,261.4 72.82,263.15 74.67,263.2 73.2,264.32 73.73,266.1 72.2,265.05 70.67,266.1 71.2,264.32 69.73,263.2 71.58,263.15" fill="#111"/>
<polygon points="77.8,261.4 78.42,263.15 80.27,263.2 78.8,264.32 79.33,266.1 77.8,265.05 76.27,266.1 76.8,264.32 75.33,263.2 77.18,263.15" fill="#111"/>
<line x1="42.7" y1="274.6" x2="52.3" y2="274.6" stroke="#111" stroke-width="1.5"/>
<polygon points="96.3 289.45 98.2 285.95 94.4 285.95" fill="#817bc8"/>
<rect x="98.95" y="297.15" width="3.3" height="3.3" fill="#4a1570"/>
<circle cx="104" cy="304.2" r="1.8" fill="#f5821f"/>
<polygon points="108.3,307.3 110.4,309.4 108.3,311.5 106.2,309.4" fill="#000000"/>
<line x1="96" y1="300.6" x2="106" y2="300.6" stroke="#111" stroke-width="1.5"/>
<text x="0" y="2.65" font-size="7.4" fill="#1e1e1e" stroke="#1e1e1e" stroke-width="0.06" text-anchor="start" transform="translate(108.8,299) scale(1,1)" >0.53</text>
<circle cx="155.5" cy="300.5" r="1.8" fill="#f5821f"/>
<polygon points="159.2,304.1 161.3,306.2 159.2,308.3 157.1,306.2" fill="#000000"/>
<polygon points="140.6 309.55 142.5 313.05 138.7 313.05" fill="#f5821f"/>
<rect x="150.45" y="315.65" width="3.3" height="3.3" fill="#4a1570"/>
<line x1="148.8" y1="309.4" x2="158.5" y2="309.4" stroke="#111" stroke-width="1.5"/>
<text x="0" y="2.65" font-size="7.4" fill="#1e1e1e" stroke="#1e1e1e" stroke-width="0.06" text-anchor="middle" transform="translate(165.6,308.8) rotate(-90) scale(1,1)" >0.38</text>
<line x1="196.3" y1="246.5" x2="196.3" y2="329.4" stroke="#383838" stroke-width="1.3"/>
<line x1="193.5" y1="246.5" x2="196.3" y2="246.5" stroke="#383838" stroke-width="1"/>
<text x="0" y="2.65" font-size="7.4" fill="#1e1e1e" stroke="#1e1e1e" stroke-width="0.06" text-anchor="end" transform="translate(191.3,246.5) scale(1,1)" >1.5</text>
<line x1="193.5" y1="274" x2="196.3" y2="274" stroke="#383838" stroke-width="1"/>
<text x="0" y="2.65" font-size="7.4" fill="#1e1e1e" stroke="#1e1e1e" stroke-width="0.06" text-anchor="end" transform="translate(191.3,274) scale(1,1)" >1.0</text>
<line x1="193.5" y1="301.4" x2="196.3" y2="301.4" stroke="#383838" stroke-width="1"/>
<text x="0" y="2.65" font-size="7.4" fill="#1e1e1e" stroke="#1e1e1e" stroke-width="0.06" text-anchor="end" transform="translate(191.3,301.4) scale(1,1)" >0.5</text>
<line x1="193.5" y1="328.9" x2="196.3" y2="328.9" stroke="#383838" stroke-width="1"/>
<text x="0" y="2.65" font-size="7.4" fill="#1e1e1e" stroke="#1e1e1e" stroke-width="0.06" text-anchor="end" transform="translate(191.3,328.9) scale(1,1)" >0.0</text>
<text x="0" y="3.04" font-size="8.5" fill="#1e1e1e" stroke="#1e1e1e" stroke-width="0.06" text-anchor="middle" transform="translate(174.2,288) rotate(-90) scale(1,1)" >Relative to C1D1</text>
<line x1="195.7" y1="328.9" x2="323.6" y2="328.9" stroke="#383838" stroke-width="1.4"/>
<line x1="209.1" y1="328.9" x2="209.1" y2="332.1" stroke="#383838" stroke-width="1.1"/>
<line x1="234.8" y1="328.9" x2="234.8" y2="332.1" stroke="#383838" stroke-width="1.1"/>
<line x1="260.3" y1="328.9" x2="260.3" y2="332.1" stroke="#383838" stroke-width="1.1"/>
<line x1="285.9" y1="328.9" x2="285.9" y2="332.1" stroke="#383838" stroke-width="1.1"/>
<line x1="311.5" y1="328.9" x2="311.5" y2="332.1" stroke="#383838" stroke-width="1.1"/>
<text x="0" y="2.79" font-size="7.8" fill="#1e1e1e" stroke="#1e1e1e" stroke-width="0.06" text-anchor="middle" transform="translate(209,338) scale(1,1)" >C1D1</text>
<text x="0" y="2.79" font-size="7.8" fill="#1e1e1e" stroke="#1e1e1e" stroke-width="0.06" text-anchor="middle" transform="translate(259.9,338) scale(1,1)" >C2D1</text>
<text x="0" y="2.79" font-size="7.8" fill="#1e1e1e" stroke="#1e1e1e" stroke-width="0.06" text-anchor="middle" transform="translate(311.5,338) scale(1,1)" >C3D1</text>
<text x="0" y="3.13" font-size="8.75" fill="#1a1a1a" stroke="#1a1a1a" stroke-width="0.12" text-anchor="middle" transform="translate(237.3,239.65) scale(1,1)" >cIAP2</text>
<line x1="223.5" y1="244.6" x2="249.8" y2="244.6" stroke="#222" stroke-width="1.1"/>
<line x1="225.8" y1="259" x2="302.3" y2="259" stroke="#cc3654" stroke-width="1.9"/>
<polygon points="265.5,251.4 266.12,253.15 267.97,253.2 266.5,254.32 267.03,256.1 265.5,255.05 263.97,256.1 264.5,254.32 263.03,253.2 264.88,253.15" fill="#111"/>
<line x1="210" y1="274.2" x2="220" y2="274.2" stroke="#111" stroke-width="1.5"/>
<polygon points="266.3 267.45 268.2 270.95 264.4 270.95" fill="#817bc8"/>
<circle cx="271.2" cy="270.6" r="1.8" fill="#4a1570"/>
<polygon points="257.1 288.75 259 285.25 255.2 285.25" fill="#22a53f"/>
<polygon points="261.9,284.9 264,287 261.9,289.1 259.8,287" fill="#000000"/>
<line x1="260.6" y1="278.8" x2="269.6" y2="278.8" stroke="#111" stroke-width="1.5"/>
<text x="0" y="2.65" font-size="7.4" fill="#1e1e1e" stroke="#1e1e1e" stroke-width="0.06" text-anchor="start" transform="translate(272.7,279.6) scale(1,1)" >0.92</text>
<circle cx="321.7" cy="280.6" r="1.8" fill="#4a1570"/>
<polygon points="317.3 283.65 319.2 287.15 315.4 287.15" fill="#817bc8"/>
<polygon points="308.7 295.05 310.6 291.55 306.8 291.55" fill="#22a53f"/>
<polygon points="313.5,301.2 315.6,303.3 313.5,305.4 311.4,303.3" fill="#000000"/>
<line x1="308.7" y1="290.8" x2="318.3" y2="290.8" stroke="#111" stroke-width="1.5"/>
<text x="0" y="2.65" font-size="7.4" fill="#1e1e1e" stroke="#1e1e1e" stroke-width="0.06" text-anchor="start" transform="translate(319.6,291.7) scale(1,1)" >0.70</text>
<line x1="360.9" y1="246.7" x2="360.9" y2="329.7" stroke="#383838" stroke-width="1.3"/>
<line x1="358.1" y1="246.7" x2="360.9" y2="246.7" stroke="#383838" stroke-width="1"/>
<text x="0" y="2.65" font-size="7.4" fill="#1e1e1e" stroke="#1e1e1e" stroke-width="0.06" text-anchor="end" transform="translate(355.7,246.7) scale(1,1)" >1.5</text>
<line x1="358.1" y1="274" x2="360.9" y2="274" stroke="#383838" stroke-width="1"/>
<text x="0" y="2.65" font-size="7.4" fill="#1e1e1e" stroke="#1e1e1e" stroke-width="0.06" text-anchor="end" transform="translate(355.7,274) scale(1,1)" >1.0</text>
<line x1="358.1" y1="301.5" x2="360.9" y2="301.5" stroke="#383838" stroke-width="1"/>
<text x="0" y="2.65" font-size="7.4" fill="#1e1e1e" stroke="#1e1e1e" stroke-width="0.06" text-anchor="end" transform="translate(355.7,301.5) scale(1,1)" >0.5</text>
<line x1="358.1" y1="329.2" x2="360.9" y2="329.2" stroke="#383838" stroke-width="1"/>
<text x="0" y="2.65" font-size="7.4" fill="#1e1e1e" stroke="#1e1e1e" stroke-width="0.06" text-anchor="end" transform="translate(355.7,329.2) scale(1,1)" >0.0</text>
<text x="0" y="3.04" font-size="8.5" fill="#1e1e1e" stroke="#1e1e1e" stroke-width="0.06" text-anchor="middle" transform="translate(340.9,288.2) rotate(-90) scale(1,1)" >Relative to C1D1</text>
<line x1="360.3" y1="329.3" x2="489.8" y2="329.3" stroke="#383838" stroke-width="1.4"/>
<line x1="373.9" y1="329.3" x2="373.9" y2="332.5" stroke="#383838" stroke-width="1.1"/>
<line x1="399.9" y1="329.3" x2="399.9" y2="332.5" stroke="#383838" stroke-width="1.1"/>
<line x1="425.5" y1="329.3" x2="425.5" y2="332.5" stroke="#383838" stroke-width="1.1"/>
<line x1="451.4" y1="329.3" x2="451.4" y2="332.5" stroke="#383838" stroke-width="1.1"/>
<line x1="476.8" y1="329.3" x2="476.8" y2="332.5" stroke="#383838" stroke-width="1.1"/>
<text x="0" y="2.79" font-size="7.8" fill="#1e1e1e" stroke="#1e1e1e" stroke-width="0.06" text-anchor="middle" transform="translate(373.6,338) scale(1,1)" >C1D1</text>
<text x="0" y="2.79" font-size="7.8" fill="#1e1e1e" stroke="#1e1e1e" stroke-width="0.06" text-anchor="middle" transform="translate(425.5,338) scale(1,1)" >C2D1</text>
<text x="0" y="2.79" font-size="7.8" fill="#1e1e1e" stroke="#1e1e1e" stroke-width="0.06" text-anchor="middle" transform="translate(476.7,338) scale(1,1)" >C3D1</text>
<text x="0" y="3.13" font-size="8.75" fill="#1a1a1a" stroke="#1a1a1a" stroke-width="0.12" text-anchor="middle" transform="translate(401.2,239.65) scale(1,1)" >cIAP2</text>
<line x1="387.1" y1="244.6" x2="414" y2="244.6" stroke="#222" stroke-width="1.1"/>
<line x1="370.8" y1="274.2" x2="380.8" y2="274.2" stroke="#111" stroke-width="1.5"/>
<polygon points="437.4 261.15 439.4 257.45 435.4 257.45" fill="none" stroke="#4a1570" stroke-width="1.1" stroke-linejoin="miter"/>
<polygon points="436.3 263.45 438.3 267.15 434.3 267.15" fill="none" stroke="#22a53f" stroke-width="1.1" stroke-linejoin="miter"/>
<rect x="433.95" y="269.85" width="3.5" height="3.5" fill="none" stroke="#817bc8" stroke-width="0.9"/>
<polygon points="432.9 279.05 434.8 275.55 431 275.55" fill="#4a1570"/>
<polygon points="431.8 284.75 433.7 281.25 429.9 281.25" fill="#22a53f"/>
<rect x="420.85" y="289.25" width="3.3" height="3.3" fill="#22a53f"/>
<circle cx="416.9" cy="295.8" r="1.8" fill="#22a53f"/>
<circle cx="433.8" cy="293.7" r="1.75" fill="none" stroke="#f5821f" stroke-width="0.95"/>
<line x1="427.4" y1="279.7" x2="437" y2="279.7" stroke="#111" stroke-width="1.5"/>
<text x="0" y="2.65" font-size="7.4" fill="#1e1e1e" stroke="#1e1e1e" stroke-width="0.06" text-anchor="start" transform="translate(440.2,277.7) scale(1,1)" >0.90</text>
<rect x="472.75" y="261.85" width="3.3" height="3.3" fill="#22a53f"/>
<polygon points="484.5 268.25 486.4 264.75 482.6 264.75" fill="#4a1570"/>
<polygon points="487.9 263.55 489.9 267.25 485.9 267.25" fill="none" stroke="#22a53f" stroke-width="1.1" stroke-linejoin="miter"/>
<polygon points="490 266.75 492 263.05 488 263.05" fill="none" stroke="#4a1570" stroke-width="1.1" stroke-linejoin="miter"/>
<circle cx="486.2" cy="274.2" r="1.75" fill="none" stroke="#f5821f" stroke-width="0.95"/>
<circle cx="468.8" cy="283.8" r="1.8" fill="#22a53f"/>
<rect x="485.45" y="288.65" width="3.5" height="3.5" fill="none" stroke="#817bc8" stroke-width="0.9"/>
<polygon points="483.8 304.05 485.7 300.55 481.9 300.55" fill="#22a53f"/>
<line x1="478.8" y1="276.6" x2="488.7" y2="276.6" stroke="#111" stroke-width="1.5"/>
<text x="0" y="2.65" font-size="7.4" fill="#1e1e1e" stroke="#1e1e1e" stroke-width="0.06" text-anchor="start" transform="translate(490.6,275.4) scale(1,1)" >0.96</text>
<line x1="34.1" y1="368.7" x2="34.1" y2="384.8" stroke="#383838" stroke-width="1.3"/>
<polygon points="32.7,385.4 35.5,385.4 34.1,383.4" fill="#383838"/>
<line x1="31.3" y1="368.7" x2="34.1" y2="368.7" stroke="#383838" stroke-width="1"/>
<text x="0" y="2.69" font-size="7.5" fill="#1e1e1e" stroke="#1e1e1e" stroke-width="0.06" text-anchor="end" transform="translate(28.1,368.7) scale(1,1)" >30</text>
<line x1="31.3" y1="375.3" x2="34.1" y2="375.3" stroke="#383838" stroke-width="1"/>
<text x="0" y="2.69" font-size="7.5" fill="#1e1e1e" stroke="#1e1e1e" stroke-width="0.06" text-anchor="end" transform="translate(28.1,375.3) scale(1,1)" >20</text>
<line x1="31.3" y1="381.5" x2="34.1" y2="381.5" stroke="#383838" stroke-width="1"/>
<text x="0" y="2.69" font-size="7.5" fill="#1e1e1e" stroke="#1e1e1e" stroke-width="0.06" text-anchor="end" transform="translate(28.1,381.5) scale(1,1)" >10</text>
<line x1="34.1" y1="388.9" x2="34.1" y2="452.8" stroke="#383838" stroke-width="1.3"/>
<line x1="31.3" y1="388.9" x2="34.1" y2="388.9" stroke="#383838" stroke-width="1"/>
<text x="0" y="2.65" font-size="7.4" fill="#1e1e1e" stroke="#1e1e1e" stroke-width="0.06" text-anchor="end" transform="translate(28.3,388.1) scale(1,1)" >4</text>
<line x1="31.3" y1="404.4" x2="34.1" y2="404.4" stroke="#383838" stroke-width="1"/>
<text x="0" y="2.65" font-size="7.4" fill="#1e1e1e" stroke="#1e1e1e" stroke-width="0.06" text-anchor="end" transform="translate(28.3,404.4) scale(1,1)" >3</text>
<line x1="31.3" y1="420.3" x2="34.1" y2="420.3" stroke="#383838" stroke-width="1"/>
<text x="0" y="2.65" font-size="7.4" fill="#1e1e1e" stroke="#1e1e1e" stroke-width="0.06" text-anchor="end" transform="translate(28.3,420.3) scale(1,1)" >2</text>
<line x1="31.3" y1="436.4" x2="34.1" y2="436.4" stroke="#383838" stroke-width="1"/>
<text x="0" y="2.65" font-size="7.4" fill="#1e1e1e" stroke="#1e1e1e" stroke-width="0.06" text-anchor="end" transform="translate(28.3,436.4) scale(1,1)" >1</text>
<line x1="31.3" y1="452.3" x2="34.1" y2="452.3" stroke="#383838" stroke-width="1"/>
<text x="0" y="2.65" font-size="7.4" fill="#1e1e1e" stroke="#1e1e1e" stroke-width="0.06" text-anchor="end" transform="translate(28.3,452.3) scale(1,1)" >0</text>
<text x="0" y="3.04" font-size="8.5" fill="#1e1e1e" stroke="#1e1e1e" stroke-width="0.06" text-anchor="middle" transform="translate(11.3,412.1) rotate(-90) scale(1,1)" >Relative to C1D1</text>
<line x1="33.5" y1="452.3" x2="161.7" y2="452.3" stroke="#383838" stroke-width="1.4"/>
<line x1="46.2" y1="452.3" x2="46.2" y2="455.5" stroke="#383838" stroke-width="1.1"/>
<line x1="72.5" y1="452.3" x2="72.5" y2="455.5" stroke="#383838" stroke-width="1.1"/>
<line x1="98" y1="452.3" x2="98" y2="455.5" stroke="#383838" stroke-width="1.1"/>
<line x1="123.8" y1="452.3" x2="123.8" y2="455.5" stroke="#383838" stroke-width="1.1"/>
<line x1="149.2" y1="452.3" x2="149.2" y2="455.5" stroke="#383838" stroke-width="1.1"/>
<text x="0" y="2.79" font-size="7.8" fill="#1e1e1e" stroke="#1e1e1e" stroke-width="0.06" text-anchor="middle" transform="translate(46.2,462) scale(1,1)" >C1D1</text>
<text x="0" y="2.79" font-size="7.8" fill="#1e1e1e" stroke="#1e1e1e" stroke-width="0.06" text-anchor="middle" transform="translate(97.9,462) scale(1,1)" >C2D1</text>
<text x="0" y="2.79" font-size="7.8" fill="#1e1e1e" stroke="#1e1e1e" stroke-width="0.06" text-anchor="middle" transform="translate(149.2,462) scale(1,1)" >C3D1</text>
<text x="0" y="3.13" font-size="8.75" fill="#1a1a1a" stroke="#1a1a1a" stroke-width="0.12" text-anchor="middle" transform="translate(76.2,368.35) scale(1,1)" >XIAP</text>
<line x1="61.9" y1="373.7" x2="88.5" y2="373.7" stroke="#222" stroke-width="1.1"/>
<line x1="52.5" y1="424.2" x2="95.3" y2="424.2" stroke="#cc3654" stroke-width="1.9"/>
<polygon points="73.5,417.2 74.12,418.95 75.97,419 74.5,420.12 75.03,421.9 73.5,420.85 71.97,421.9 72.5,420.12 71.03,419 72.88,418.95" fill="#111"/>
<line x1="41.3" y1="436.2" x2="51.3" y2="436.2" stroke="#111" stroke-width="1.5"/>
<circle cx="91" cy="437.2" r="1.8" fill="#22a53f"/>
<circle cx="101.2" cy="433.8" r="1.8" fill="#f5821f"/>
<rect x="106.45" y="439.75" width="3.3" height="3.3" fill="#000000"/>
<rect x="96.25" y="443.55" width="3.3" height="3.3" fill="#4a1570"/>
<polygon points="94.4 448.95 96.3 445.45 92.5 445.45" fill="#817bc8"/>
<polygon points="104.5,443.3 106.6,445.4 104.5,447.5 102.4,445.4" fill="#000000"/>
<line x1="94.2" y1="441.5" x2="104.2" y2="441.5" stroke="#111" stroke-width="1.5"/>
<text x="0" y="2.65" font-size="7.4" fill="#1e1e1e" stroke="#1e1e1e" stroke-width="0.06" text-anchor="start" transform="translate(106.9,436.1) scale(1,1)" >0.70</text>
<circle cx="153.1" cy="429.8" r="1.8" fill="#f5821f"/>
<circle cx="142.1" cy="439.8" r="1.8" fill="#22a53f"/>
<polygon points="156.5,442.1 158.6,444.2 156.5,446.3 154.4,444.2" fill="#000000"/>
<polygon points="138.7 446.15 140.6 449.65 136.8 449.65" fill="#f5821f"/>
<rect x="147.55" y="449.35" width="3.3" height="3.3" fill="#4a1570"/>
<line x1="143.5" y1="443.1" x2="153.1" y2="443.1" stroke="#111" stroke-width="1.5"/>
<text x="0" y="2.65" font-size="7.4" fill="#1e1e1e" stroke="#1e1e1e" stroke-width="0.06" text-anchor="start" transform="translate(150.8,438.5) scale(1,1)" >0.62</text>
<line x1="194.3" y1="369.2" x2="194.3" y2="385" stroke="#383838" stroke-width="1.3"/>
<polygon points="192.9,385.6 195.7,385.6 194.3,383.6" fill="#383838"/>
<line x1="191.5" y1="369.2" x2="194.3" y2="369.2" stroke="#383838" stroke-width="1"/>
<text x="0" y="2.69" font-size="7.5" fill="#1e1e1e" stroke="#1e1e1e" stroke-width="0.06" text-anchor="end" transform="translate(189,369.2) scale(1,1)" >30</text>
<line x1="191.5" y1="375.4" x2="194.3" y2="375.4" stroke="#383838" stroke-width="1"/>
<text x="0" y="2.69" font-size="7.5" fill="#1e1e1e" stroke="#1e1e1e" stroke-width="0.06" text-anchor="end" transform="translate(189,375.4) scale(1,1)" >20</text>
<line x1="191.5" y1="381.5" x2="194.3" y2="381.5" stroke="#383838" stroke-width="1"/>
<text x="0" y="2.69" font-size="7.5" fill="#1e1e1e" stroke="#1e1e1e" stroke-width="0.06" text-anchor="end" transform="translate(189,381.5) scale(1,1)" >10</text>
<line x1="194.3" y1="389.2" x2="194.3" y2="452" stroke="#383838" stroke-width="1.3"/>
<line x1="191.5" y1="389.2" x2="194.3" y2="389.2" stroke="#383838" stroke-width="1"/>
<text x="0" y="2.65" font-size="7.4" fill="#1e1e1e" stroke="#1e1e1e" stroke-width="0.06" text-anchor="end" transform="translate(189.2,388.4) scale(1,1)" >4</text>
<line x1="191.5" y1="403.5" x2="194.3" y2="403.5" stroke="#383838" stroke-width="1"/>
<text x="0" y="2.65" font-size="7.4" fill="#1e1e1e" stroke="#1e1e1e" stroke-width="0.06" text-anchor="end" transform="translate(189.2,403.5) scale(1,1)" >3</text>
<line x1="191.5" y1="419.2" x2="194.3" y2="419.2" stroke="#383838" stroke-width="1"/>
<text x="0" y="2.65" font-size="7.4" fill="#1e1e1e" stroke="#1e1e1e" stroke-width="0.06" text-anchor="end" transform="translate(189.2,419.2) scale(1,1)" >2</text>
<line x1="191.5" y1="435.5" x2="194.3" y2="435.5" stroke="#383838" stroke-width="1"/>
<text x="0" y="2.65" font-size="7.4" fill="#1e1e1e" stroke="#1e1e1e" stroke-width="0.06" text-anchor="end" transform="translate(189.2,435.5) scale(1,1)" >1</text>
<line x1="191.5" y1="451.5" x2="194.3" y2="451.5" stroke="#383838" stroke-width="1"/>
<text x="0" y="2.65" font-size="7.4" fill="#1e1e1e" stroke="#1e1e1e" stroke-width="0.06" text-anchor="end" transform="translate(189.2,451.5) scale(1,1)" >0</text>
<text x="0" y="3.04" font-size="8.5" fill="#1e1e1e" stroke="#1e1e1e" stroke-width="0.06" text-anchor="middle" transform="translate(172.3,411.4) rotate(-90) scale(1,1)" >Relative to C1D1</text>
<line x1="193.7" y1="451.5" x2="325.6" y2="451.5" stroke="#383838" stroke-width="1.4"/>
<line x1="206.5" y1="451.5" x2="206.5" y2="454.7" stroke="#383838" stroke-width="1.1"/>
<line x1="233.5" y1="451.5" x2="233.5" y2="454.7" stroke="#383838" stroke-width="1.1"/>
<line x1="260.2" y1="451.5" x2="260.2" y2="454.7" stroke="#383838" stroke-width="1.1"/>
<line x1="286.7" y1="451.5" x2="286.7" y2="454.7" stroke="#383838" stroke-width="1.1"/>
<line x1="313.1" y1="451.5" x2="313.1" y2="454.7" stroke="#383838" stroke-width="1.1"/>
<text x="0" y="2.79" font-size="7.8" fill="#1e1e1e" stroke="#1e1e1e" stroke-width="0.06" text-anchor="middle" transform="translate(206.5,461.2) scale(1,1)" >C1D1</text>
<text x="0" y="2.79" font-size="7.8" fill="#1e1e1e" stroke="#1e1e1e" stroke-width="0.06" text-anchor="middle" transform="translate(259.8,461.2) scale(1,1)" >C2D1</text>
<text x="0" y="2.79" font-size="7.8" fill="#1e1e1e" stroke="#1e1e1e" stroke-width="0.06" text-anchor="middle" transform="translate(312.7,461.2) scale(1,1)" >C3D1</text>
<text x="0" y="3.13" font-size="8.75" fill="#1a1a1a" stroke="#1a1a1a" stroke-width="0.12" text-anchor="middle" transform="translate(237.1,365.55) scale(1,1)" >XIAP</text>
<line x1="222.9" y1="370.8" x2="249.2" y2="370.8" stroke="#222" stroke-width="1.1"/>
<line x1="201.7" y1="436" x2="211.9" y2="436" stroke="#111" stroke-width="1.5"/>
<rect x="248.45" y="419.05" width="3.3" height="3.3" fill="#f5821f"/>
<polygon points="264.9 427.45 266.8 430.95 263 430.95" fill="#817bc8"/>
<polygon points="255.3 442.75 257.2 439.25 253.4 439.25" fill="#22a53f"/>
<polygon points="260.1,437.9 262.2,440 260.1,442.1 258,440" fill="#000000"/>
<circle cx="269.4" cy="444.2" r="1.8" fill="#4a1570"/>
<line x1="255.3" y1="435.2" x2="264.9" y2="435.2" stroke="#111" stroke-width="1.5"/>
<text x="0" y="2.65" font-size="7.4" fill="#1e1e1e" stroke="#1e1e1e" stroke-width="0.06" text-anchor="start" transform="translate(269.4,434.2) scale(1,1)" >1.10</text>
<rect x="302.75" y="413.75" width="3.3" height="3.3" fill="#f5821f"/>
<polygon points="317.9 430.55 319.8 434.05 316 434.05" fill="#817bc8"/>
<polygon points="308.3 444.05 310.2 440.55 306.4 440.55" fill="#22a53f"/>
<polygon points="313.1,443.1 315.2,445.2 313.1,447.3 311,445.2" fill="#000000"/>
<circle cx="322.7" cy="441.3" r="1.8" fill="#4a1570"/>
<line x1="310.2" y1="435.6" x2="319.8" y2="435.6" stroke="#111" stroke-width="1.5"/>
<text x="0" y="2.65" font-size="7.4" fill="#1e1e1e" stroke="#1e1e1e" stroke-width="0.06" text-anchor="start" transform="translate(320.8,434.2) scale(1,1)" >1.07</text>
<line x1="362.4" y1="365.6" x2="362.4" y2="381.7" stroke="#383838" stroke-width="1.3"/>
<polygon points="361,382.3 363.8,382.3 362.4,380.3" fill="#383838"/>
<line x1="359.6" y1="365.6" x2="362.4" y2="365.6" stroke="#383838" stroke-width="1"/>
<text x="0" y="2.69" font-size="7.5" fill="#1e1e1e" stroke="#1e1e1e" stroke-width="0.06" text-anchor="end" transform="translate(356.6,365.6) scale(1,1)" >30</text>
<line x1="359.6" y1="372.1" x2="362.4" y2="372.1" stroke="#383838" stroke-width="1"/>
<text x="0" y="2.69" font-size="7.5" fill="#1e1e1e" stroke="#1e1e1e" stroke-width="0.06" text-anchor="end" transform="translate(356.6,372.1) scale(1,1)" >20</text>
<line x1="359.6" y1="378.3" x2="362.4" y2="378.3" stroke="#383838" stroke-width="1"/>
<text x="0" y="2.69" font-size="7.5" fill="#1e1e1e" stroke="#1e1e1e" stroke-width="0.06" text-anchor="end" transform="translate(356.6,378.3) scale(1,1)" >10</text>
<line x1="362.4" y1="386.2" x2="362.4" y2="452.2" stroke="#383838" stroke-width="1.3"/>
<line x1="359.6" y1="386.2" x2="362.4" y2="386.2" stroke="#383838" stroke-width="1"/>
<text x="0" y="2.65" font-size="7.4" fill="#1e1e1e" stroke="#1e1e1e" stroke-width="0.06" text-anchor="end" transform="translate(356.8,385.4) scale(1,1)" >4</text>
<line x1="359.6" y1="402.9" x2="362.4" y2="402.9" stroke="#383838" stroke-width="1"/>
<text x="0" y="2.65" font-size="7.4" fill="#1e1e1e" stroke="#1e1e1e" stroke-width="0.06" text-anchor="end" transform="translate(356.8,402.9) scale(1,1)" >3</text>
<line x1="359.6" y1="419.3" x2="362.4" y2="419.3" stroke="#383838" stroke-width="1"/>
<text x="0" y="2.65" font-size="7.4" fill="#1e1e1e" stroke="#1e1e1e" stroke-width="0.06" text-anchor="end" transform="translate(356.8,419.3) scale(1,1)" >2</text>
<line x1="359.6" y1="435.5" x2="362.4" y2="435.5" stroke="#383838" stroke-width="1"/>
<text x="0" y="2.65" font-size="7.4" fill="#1e1e1e" stroke="#1e1e1e" stroke-width="0.06" text-anchor="end" transform="translate(356.8,435.5) scale(1,1)" >1</text>
<line x1="359.6" y1="451.7" x2="362.4" y2="451.7" stroke="#383838" stroke-width="1"/>
<text x="0" y="2.65" font-size="7.4" fill="#1e1e1e" stroke="#1e1e1e" stroke-width="0.06" text-anchor="end" transform="translate(356.8,451.7) scale(1,1)" >0</text>
<text x="0" y="3.04" font-size="8.5" fill="#1e1e1e" stroke="#1e1e1e" stroke-width="0.06" text-anchor="middle" transform="translate(342,410.7) rotate(-90) scale(1,1)" >Relative to C1D1</text>
<line x1="361.8" y1="451.7" x2="504.6" y2="451.7" stroke="#383838" stroke-width="1.4"/>
<line x1="375.7" y1="451.7" x2="375.7" y2="454.9" stroke="#383838" stroke-width="1.1"/>
<line x1="404.3" y1="451.7" x2="404.3" y2="454.9" stroke="#383838" stroke-width="1.1"/>
<line x1="433.3" y1="451.7" x2="433.3" y2="454.9" stroke="#383838" stroke-width="1.1"/>
<line x1="462.2" y1="451.7" x2="462.2" y2="454.9" stroke="#383838" stroke-width="1.1"/>
<line x1="491.1" y1="451.7" x2="491.1" y2="454.9" stroke="#383838" stroke-width="1.1"/>
<text x="0" y="2.79" font-size="7.8" fill="#1e1e1e" stroke="#1e1e1e" stroke-width="0.06" text-anchor="middle" transform="translate(375.7,461) scale(1,1)" >C1D1</text>
<text x="0" y="2.79" font-size="7.8" fill="#1e1e1e" stroke="#1e1e1e" stroke-width="0.06" text-anchor="middle" transform="translate(433.3,461) scale(1,1)" >C2D1</text>
<text x="0" y="2.79" font-size="7.8" fill="#1e1e1e" stroke="#1e1e1e" stroke-width="0.06" text-anchor="middle" transform="translate(490.8,461) scale(1,1)" >C3D1</text>
<text x="0" y="3.13" font-size="8.75" fill="#1a1a1a" stroke="#1a1a1a" stroke-width="0.12" text-anchor="middle" transform="translate(399.8,365.15) scale(1,1)" >XIAP</text>
<line x1="385.2" y1="370.2" x2="412.1" y2="370.2" stroke="#222" stroke-width="1.1"/>
<line x1="371.1" y1="436.3" x2="380.8" y2="436.3" stroke="#111" stroke-width="1.5"/>
<circle cx="420.2" cy="370.6" r="1.8" fill="#f5821f"/>
<circle cx="423.1" cy="398.1" r="1.8" fill="#22a53f"/>
<polygon points="434.7 404.95 436.6 408.45 432.8 408.45" fill="#22a53f"/>
<rect x="425.25" y="414.65" width="3.3" height="3.3" fill="#f5821f"/>
<polygon points="437.3 426.75 439.2 423.25 435.4 423.25" fill="#f5821f"/>
<circle cx="424.4" cy="430.2" r="1.8" fill="#000000"/>
<circle cx="428.1" cy="431.7" r="1.8" fill="#817bc8"/>
<rect x="427.85" y="432.85" width="3.3" height="3.3" fill="#22a53f"/>
<polygon points="433.6 433.85 435.5 437.35 431.7 437.35" fill="#817bc8"/>
<circle cx="441.7" cy="432.3" r="1.75" fill="none" stroke="#f5821f" stroke-width="0.95"/>
<polygon points="445.4 431.25 447.4 434.95 443.4 434.95" fill="none" stroke="#22a53f" stroke-width="1.1" stroke-linejoin="miter"/>
<polygon points="446.8 435.55 448.8 431.85 444.8 431.85" fill="none" stroke="#4a1570" stroke-width="1.1" stroke-linejoin="miter"/>
<rect x="442.45" y="434.25" width="3.5" height="3.5" fill="none" stroke="#817bc8" stroke-width="0.9"/>
<polygon points="437.9 437.75 439.8 434.25 436 434.25" fill="#817bc8"/>
<polygon points="439.4 438.85 441.3 435.35 437.5 435.35" fill="#22a53f"/>
<polygon points="441.3 441.15 443.2 437.65 439.4 437.65" fill="#4a1570"/>
<circle cx="421.7" cy="438.6" r="1.8" fill="#817bc8"/>
<circle cx="425.8" cy="441.7" r="1.8" fill="#4a1570"/>
<polygon points="432.1 440.35 434 443.85 430.2 443.85" fill="#f5821f"/>
<rect x="429.35" y="446.15" width="3.3" height="3.3" fill="#4a1570"/>
<polygon points="435.9 446.05 437.8 449.55 434 449.55" fill="#4a1570"/>
<line x1="428.7" y1="415.3" x2="438.8" y2="415.3" stroke="#111" stroke-width="1.5"/>
<text x="0" y="2.65" font-size="7.4" fill="#1e1e1e" stroke="#1e1e1e" stroke-width="0.06" text-anchor="start" transform="translate(441.1,411.3) scale(1,1)" >2.23</text>
<circle cx="477.8" cy="367" r="1.8" fill="#f5821f"/>
<circle cx="481" cy="373.4" r="1.8" fill="#22a53f"/>
<polygon points="491.9 396.75 493.8 400.25 490 400.25" fill="#22a53f"/>
<circle cx="500.3" cy="414.8" r="1.75" fill="none" stroke="#f5821f" stroke-width="0.95"/>
<rect x="485.35" y="422.25" width="3.3" height="3.3" fill="#22a53f"/>
<rect x="484.15" y="430.35" width="3.3" height="3.3" fill="#817bc8"/>
<polygon points="502.3 428.75 504.3 432.45 500.3 432.45" fill="none" stroke="#22a53f" stroke-width="1.1" stroke-linejoin="miter"/>
<polygon points="504 436.25 506 432.55 502 432.55" fill="none" stroke="#4a1570" stroke-width="1.1" stroke-linejoin="miter"/>
<rect x="499.45" y="435.75" width="3.5" height="3.5" fill="none" stroke="#817bc8" stroke-width="0.9"/>
<polygon points="489.6 434.95 491.5 438.45 487.7 438.45" fill="#f5821f"/>
<circle cx="483" cy="439.8" r="1.8" fill="#817bc8"/>
<rect x="483.35" y="437.55" width="3.3" height="3.3" fill="#f5821f"/>
<polygon points="491.1 440.95 493 444.45 489.2 444.45" fill="#817bc8"/>
<polygon points="496 444.65 497.9 441.15 494.1 441.15" fill="#817bc8"/>
<polygon points="497.7 447.95 499.6 444.45 495.8 444.45" fill="#22a53f"/>
<rect x="487.05" y="445.65" width="3.3" height="3.3" fill="#4a1570"/>
<polygon points="493.4 445.75 495.3 449.25 491.5 449.25" fill="#4a1570"/>
<line x1="489.4" y1="393.6" x2="499.4" y2="393.6" stroke="#111" stroke-width="1.5"/>
<text x="0" y="2.65" font-size="7.4" fill="#1e1e1e" stroke="#1e1e1e" stroke-width="0.06" text-anchor="start" transform="translate(500,390.6) scale(1,1)" >3.52</text>
<line x1="143.5" y1="481.2" x2="143.5" y2="501.3" stroke="#383838" stroke-width="1.3"/>
<polygon points="142.1,501.9 144.9,501.9 143.5,499.9" fill="#383838"/>
<line x1="140.7" y1="481.2" x2="143.5" y2="481.2" stroke="#383838" stroke-width="1"/>
<text x="0" y="2.69" font-size="7.5" fill="#1e1e1e" stroke="#1e1e1e" stroke-width="0.06" text-anchor="end" transform="translate(137.8,481.2) scale(1,1)" >30</text>
<line x1="140.7" y1="488.8" x2="143.5" y2="488.8" stroke="#383838" stroke-width="1"/>
<text x="0" y="2.69" font-size="7.5" fill="#1e1e1e" stroke="#1e1e1e" stroke-width="0.06" text-anchor="end" transform="translate(137.8,488.8) scale(1,1)" >20</text>
<line x1="140.7" y1="497.3" x2="143.5" y2="497.3" stroke="#383838" stroke-width="1"/>
<text x="0" y="2.69" font-size="7.5" fill="#1e1e1e" stroke="#1e1e1e" stroke-width="0.06" text-anchor="end" transform="translate(137.8,497.3) scale(1,1)" >10</text>
<line x1="143.5" y1="509.6" x2="143.5" y2="591.7" stroke="#383838" stroke-width="1.3"/>
<line x1="140.7" y1="519.4" x2="143.5" y2="519.4" stroke="#383838" stroke-width="1"/>
<text x="0" y="2.65" font-size="7.4" fill="#1e1e1e" stroke="#1e1e1e" stroke-width="0.06" text-anchor="end" transform="translate(138,518.6) scale(1,1)" >4</text>
<line x1="140.7" y1="537.4" x2="143.5" y2="537.4" stroke="#383838" stroke-width="1"/>
<text x="0" y="2.65" font-size="7.4" fill="#1e1e1e" stroke="#1e1e1e" stroke-width="0.06" text-anchor="end" transform="translate(138,537.4) scale(1,1)" >3</text>
<line x1="140.7" y1="555.4" x2="143.5" y2="555.4" stroke="#383838" stroke-width="1"/>
<text x="0" y="2.65" font-size="7.4" fill="#1e1e1e" stroke="#1e1e1e" stroke-width="0.06" text-anchor="end" transform="translate(138,555.4) scale(1,1)" >2</text>
<line x1="140.7" y1="573.4" x2="143.5" y2="573.4" stroke="#383838" stroke-width="1"/>
<text x="0" y="2.65" font-size="7.4" fill="#1e1e1e" stroke="#1e1e1e" stroke-width="0.06" text-anchor="end" transform="translate(138,573.4) scale(1,1)" >1</text>
<line x1="140.7" y1="591.2" x2="143.5" y2="591.2" stroke="#383838" stroke-width="1"/>
<text x="0" y="2.65" font-size="7.4" fill="#1e1e1e" stroke="#1e1e1e" stroke-width="0.06" text-anchor="end" transform="translate(138,591.2) scale(1,1)" >0</text>
<text x="0" y="3.01" font-size="8.4" fill="#1e1e1e" stroke="#1e1e1e" stroke-width="0.06" text-anchor="middle" transform="translate(118.9,542.8) rotate(-90) scale(1,1)" >Relative to OCI-AML3</text>
<line x1="141" y1="509.9" x2="143.5" y2="509.9" stroke="#383838" stroke-width="1"/>
<line x1="142.9" y1="591.2" x2="308.6" y2="591.2" stroke="#383838" stroke-width="1.4"/>
<line x1="166.4" y1="591.2" x2="166.4" y2="594.4" stroke="#383838" stroke-width="1.1"/>
<line x1="198.8" y1="591.2" x2="198.8" y2="594.4" stroke="#383838" stroke-width="1.1"/>
<line x1="230.7" y1="591.2" x2="230.7" y2="594.4" stroke="#383838" stroke-width="1.1"/>
<line x1="263" y1="591.2" x2="263" y2="594.4" stroke="#383838" stroke-width="1.1"/>
<line x1="294.9" y1="591.2" x2="294.9" y2="594.4" stroke="#383838" stroke-width="1.1"/>
<text x="0" y="2.79" font-size="7.8" fill="#1e1e1e" stroke="#1e1e1e" stroke-width="0.06" text-anchor="middle" transform="translate(166.5,600.8) scale(1,1)" >cIAP1</text>
<text x="0" y="2.79" font-size="7.8" fill="#1e1e1e" stroke="#1e1e1e" stroke-width="0.06" text-anchor="middle" transform="translate(230.7,600.8) scale(1,1)" >cIAP2</text>
<text x="0" y="2.79" font-size="7.8" fill="#1e1e1e" stroke="#1e1e1e" stroke-width="0.06" text-anchor="middle" transform="translate(294.9,600.8) scale(1,1)" >XIAP</text>
<circle cx="156.5" cy="563.2" r="2.25" fill="#22a53f"/>
<circle cx="152.2" cy="571.3" r="2.25" fill="#22a53f"/>
<circle cx="160.6" cy="571.6" r="2.25" fill="#22a53f"/>
<circle cx="156.5" cy="576.3" r="2.25" fill="#22a53f"/>
<circle cx="151.9" cy="584.4" r="2.25" fill="#22a53f"/>
<circle cx="156.5" cy="587" r="2.25" fill="#22a53f"/>
<circle cx="160.4" cy="585.6" r="2.25" fill="#22a53f"/>
<rect x="165.12" y="574.22" width="3.56" height="3.56" fill="#000000"/>
<rect x="167.02" y="579.02" width="3.56" height="3.56" fill="#000000"/>
<rect x="161.02" y="583.82" width="3.56" height="3.56" fill="#000000"/>
<rect x="164.82" y="584.72" width="3.56" height="3.56" fill="#000000"/>
<rect x="169.22" y="584.52" width="3.56" height="3.56" fill="#000000"/>
<polygon points="177.5 552.69 179.69 556.71 175.31 556.71" fill="#f5821f"/>
<polygon points="177.5 561.79 179.69 565.81 175.31 565.81" fill="#f5821f"/>
<polygon points="175.4 566.19 177.59 570.21 173.22 570.21" fill="#f5821f"/>
<polygon points="182.2 569.99 184.38 574.01 180.01 574.01" fill="#f5821f"/>
<polygon points="173.4 571.99 175.59 576.01 171.22 576.01" fill="#f5821f"/>
<polygon points="178.5 572.99 180.69 577.01 176.31 577.01" fill="#f5821f"/>
<polygon points="178.2 574.99 180.38 579.01 176.01 579.01" fill="#f5821f"/>
<polygon points="176.3 576.79 178.49 580.81 174.12 580.81" fill="#f5821f"/>
<polygon points="180.4 576.79 182.59 580.81 178.22 580.81" fill="#f5821f"/>
<polygon points="174.6 578.39 176.78 582.41 172.41 582.41" fill="#f5821f"/>
<polygon points="182.2 578.59 184.38 582.61 180.01 582.61" fill="#f5821f"/>
<polygon points="178.3 577.79 180.49 581.81 176.12 581.81" fill="#f5821f"/>
<polygon points="177.5 581.79 179.69 585.81 175.31 585.81" fill="#f5821f"/>
<polygon points="177.4 575.79 179.59 579.81 175.22 579.81" fill="#f5821f"/>
<polygon points="179.3 575.39 181.49 579.41 177.12 579.41" fill="#f5821f"/>
<circle cx="216" cy="563.4" r="2.25" fill="#22a53f"/>
<circle cx="221.7" cy="567.1" r="2.25" fill="#22a53f"/>
<circle cx="215.8" cy="573.4" r="2.25" fill="#22a53f"/>
<circle cx="220" cy="576.5" r="2.25" fill="#22a53f"/>
<circle cx="223.7" cy="575.1" r="2.25" fill="#22a53f"/>
<circle cx="221.5" cy="575.8" r="2.25" fill="#22a53f"/>
<rect x="224.72" y="573.72" width="3.56" height="3.56" fill="#000000"/>
<rect x="231.32" y="572.02" width="3.56" height="3.56" fill="#000000"/>
<rect x="228.82" y="576.82" width="3.56" height="3.56" fill="#000000"/>
<rect x="231.32" y="575.42" width="3.56" height="3.56" fill="#000000"/>
<rect x="233.62" y="576.42" width="3.56" height="3.56" fill="#000000"/>
<polygon points="241.5 565.09 243.69 569.11 239.31 569.11" fill="#f5821f"/>
<polygon points="241.2 572.99 243.38 577.01 239.01 577.01" fill="#f5821f"/>
<polygon points="240.6 574.79 242.78 578.81 238.41 578.81" fill="#f5821f"/>
<polygon points="241.9 574.79 244.09 578.81 239.72 578.81" fill="#f5821f"/>
<polygon points="238.5 577.49 240.69 581.51 236.31 581.51" fill="#f5821f"/>
<polygon points="245.4 577.99 247.59 582.01 243.22 582.01" fill="#f5821f"/>
<polygon points="241.2 579.59 243.38 583.61 239.01 583.61" fill="#f5821f"/>
<polygon points="243.8 576.19 245.99 580.21 241.62 580.21" fill="#f5821f"/>
<polygon points="239.5 575.99 241.69 580.01 237.31 580.01" fill="#f5821f"/>
<circle cx="284.5" cy="545.8" r="2.25" fill="#22a53f"/>
<circle cx="282.9" cy="562.6" r="2.25" fill="#22a53f"/>
<circle cx="288.4" cy="562.6" r="2.25" fill="#22a53f"/>
<circle cx="288.4" cy="570.5" r="2.25" fill="#22a53f"/>
<circle cx="279.7" cy="572.9" r="2.25" fill="#22a53f"/>
<circle cx="284.5" cy="574.2" r="2.25" fill="#22a53f"/>
<circle cx="284.5" cy="582.4" r="2.25" fill="#22a53f"/>
<rect x="293.12" y="481.42" width="3.56" height="3.56" fill="#000000"/>
<rect x="293.12" y="517.92" width="3.56" height="3.56" fill="#000000"/>
<rect x="289.22" y="573.62" width="3.56" height="3.56" fill="#000000"/>
<rect x="295.12" y="574.42" width="3.56" height="3.56" fill="#000000"/>
<rect x="293.12" y="584.52" width="3.56" height="3.56" fill="#000000"/>
<polygon points="305.5 524.49 307.69 528.51 303.31 528.51" fill="#f5821f"/>
<polygon points="301.6 536.29 303.79 540.31 299.42 540.31" fill="#f5821f"/>
<polygon points="307 537.49 309.19 541.51 304.81 541.51" fill="#f5821f"/>
<polygon points="301.6 549.99 303.79 554.01 299.42 554.01" fill="#f5821f"/>
<polygon points="306 548.19 308.19 552.21 303.81 552.21" fill="#f5821f"/>
<polygon points="307 556.99 309.19 561.01 304.81 561.01" fill="#f5821f"/>
<polygon points="310.3 566.49 312.49 570.51 308.12 570.51" fill="#f5821f"/>
<polygon points="305.5 568.29 307.69 572.31 303.31 572.31" fill="#f5821f"/>
<polygon points="305.5 571.79 307.69 575.81 303.31 575.81" fill="#f5821f"/>
<polygon points="301.6 575.39 303.79 579.41 299.42 579.41" fill="#f5821f"/>
<polygon points="309.6 573.89 311.79 577.91 307.42 577.91" fill="#f5821f"/>
<polygon points="306 576.89 308.19 580.91 303.81 580.91" fill="#f5821f"/>
<polygon points="309.6 578.89 311.79 582.91 307.42 582.91" fill="#f5821f"/>
<polygon points="305.2 572.99 307.38 577.01 303.01 577.01" fill="#f5821f"/>
<polygon points="304.3 586.89 306.49 590.91 302.12 590.91" fill="#f5821f"/>
<circle cx="337.3" cy="488.8" r="2.43" fill="#22a53f"/>
<text x="0" y="2.48" font-size="6.92" fill="#1e1e1e" stroke="#1e1e1e" stroke-width="0.06" text-anchor="start" transform="translate(343.8,488.8) scale(1,1)" >Responder</text>
<rect x="335.85" y="502.05" width="3.7" height="3.7" fill="#000000"/>
<text x="0" y="2.48" font-size="6.92" fill="#1e1e1e" stroke="#1e1e1e" stroke-width="0.06" text-anchor="start" transform="translate(343.8,504.3) scale(1,1)" >Responded then relapsed</text>
<polygon points="338.1 516.64 340.23 520.56 335.97 520.56" fill="#f5821f"/>
<text x="0" y="2.48" font-size="6.92" fill="#1e1e1e" stroke="#1e1e1e" stroke-width="0.06" text-anchor="start" transform="translate(343.8,519.5) scale(1,1)" >Non-responders</text>
</svg>
<div class="frame"></div>
</body></html>
